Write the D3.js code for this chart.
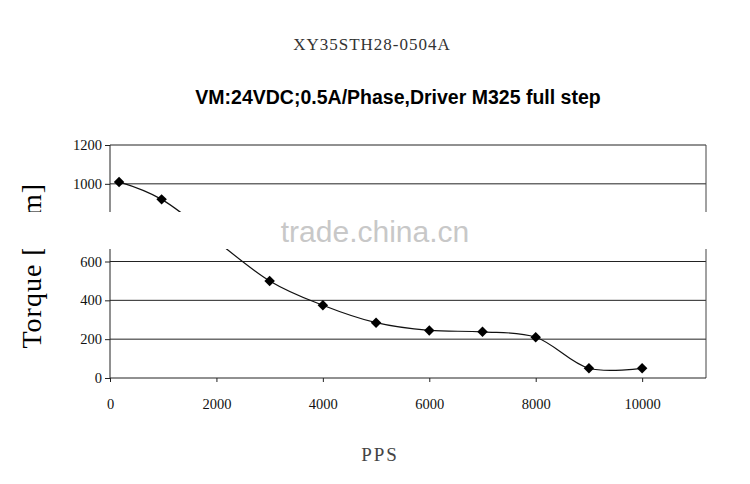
<!DOCTYPE html>
<html><head><meta charset="utf-8">
<script src="https://cdn.jsdelivr.net/npm/d3@7"></script>
<style>body{margin:0;background:#fff}</style>
</head><body>
<svg id="chart" width="750" height="484"></svg>
<script>
const pps = [170, 970, 3000, 4000, 5000, 6000, 7000, 8000, 9000, 10000];
const torque = [1010, 920, 500, 375, 285, 245, 238, 210, 50, 50];
const xTicks = [0, 2000, 4000, 6000, 8000, 10000];
const yTicks = [0, 200, 400, 600, 800, 1000, 1200];

const svg = d3.select("#chart");
const x = d3.scaleLinear().domain([0, 11200]).range([110, 706]);
const y = d3.scaleLinear().domain([0, 1200]).range([378, 145]);
const serif = "'Liberation Serif', 'DejaVu Serif', serif";

svg.append("text").attr("x", 372).attr("y", 50).attr("text-anchor", "middle")
  .attr("font-family", serif).attr("font-size", 17).attr("fill", "#333")
  .attr("letter-spacing", 1).text("XY35STH28-0504A");
svg.append("text").attr("x", 398).attr("y", 104).attr("text-anchor", "middle")
  .attr("font-family", "'Liberation Sans', Arial, sans-serif").attr("font-weight", "bold")
  .attr("font-size", 19.5).text("VM:24VDC;0.5A/Phase,Driver M325 full step");

// gridlines
svg.append("g").selectAll("line").data(yTicks.filter(d => d > 0)).join("line")
  .attr("x1", x(0)).attr("x2", 706).attr("y1", d => y(d)).attr("y2", d => y(d))
  .attr("stroke", "#222").attr("stroke-width", 1);
svg.append("line").attr("x1", 706).attr("x2", 706).attr("y1", y(1200)).attr("y2", y(0)).attr("stroke", "#444");

const xAxis = svg.append("g").attr("transform", `translate(0,${y(0)})`)
  .call(d3.axisBottom(x).tickValues(xTicks).tickFormat(d3.format("d")).tickSize(4).tickSizeOuter(0));
xAxis.selectAll("text").attr("dy", 24);
const yAxis = svg.append("g").attr("transform", `translate(${x(0)},0)`)
  .call(d3.axisLeft(y).tickValues(yTicks).tickFormat(d3.format("d")).tickSize(5).tickSizeOuter(0));
svg.selectAll(".tick text").attr("font-family", serif).attr("font-size", 14.5).attr("fill", "#111");
svg.selectAll(".domain, .tick line").attr("stroke", "#222");
yAxis.select(".domain").attr("d", `M0,${y(1200)}V${y(0)}`);
xAxis.select(".domain").attr("d", `M${x(0)},0H706`);

const line = d3.line().x((d, i) => x(pps[i])).y(d => y(d)).curve(d3.curveCatmullRom);
svg.append("path").datum(torque).attr("d", line).attr("fill", "none")
  .attr("stroke", "#111").attr("stroke-width", 1.2);
svg.append("g").selectAll("path").data(torque).join("path")
  .attr("d", d3.symbol(d3.symbolDiamond2, 70))
  .attr("transform", (d, i) => `translate(${x(pps[i])},${y(d)})`)
  .attr("fill", "#000");

svg.append("text").attr("transform", "translate(41,183) rotate(-90)").attr("text-anchor", "end")
  .attr("font-family", serif).attr("font-size", 28).attr("letter-spacing", 1).text("Torque [N.m]");
svg.append("text").attr("x", 380).attr("y", 461).attr("text-anchor", "middle")
  .attr("font-family", serif).attr("font-size", 19).attr("fill", "#444").attr("letter-spacing", 2).text("PPS");

// watermark band
svg.append("rect").attr("x", 0).attr("y", 212).attr("width", 750).attr("height", 37).attr("fill", "#fff");
svg.append("text").attr("x", 375).attr("y", 242).attr("text-anchor", "middle")
  .attr("font-family", "'Liberation Sans', Arial, sans-serif").attr("font-size", 30)
  .attr("fill", "#c8c8c8").text("trade.china.cn");
</script>
</body></html>
